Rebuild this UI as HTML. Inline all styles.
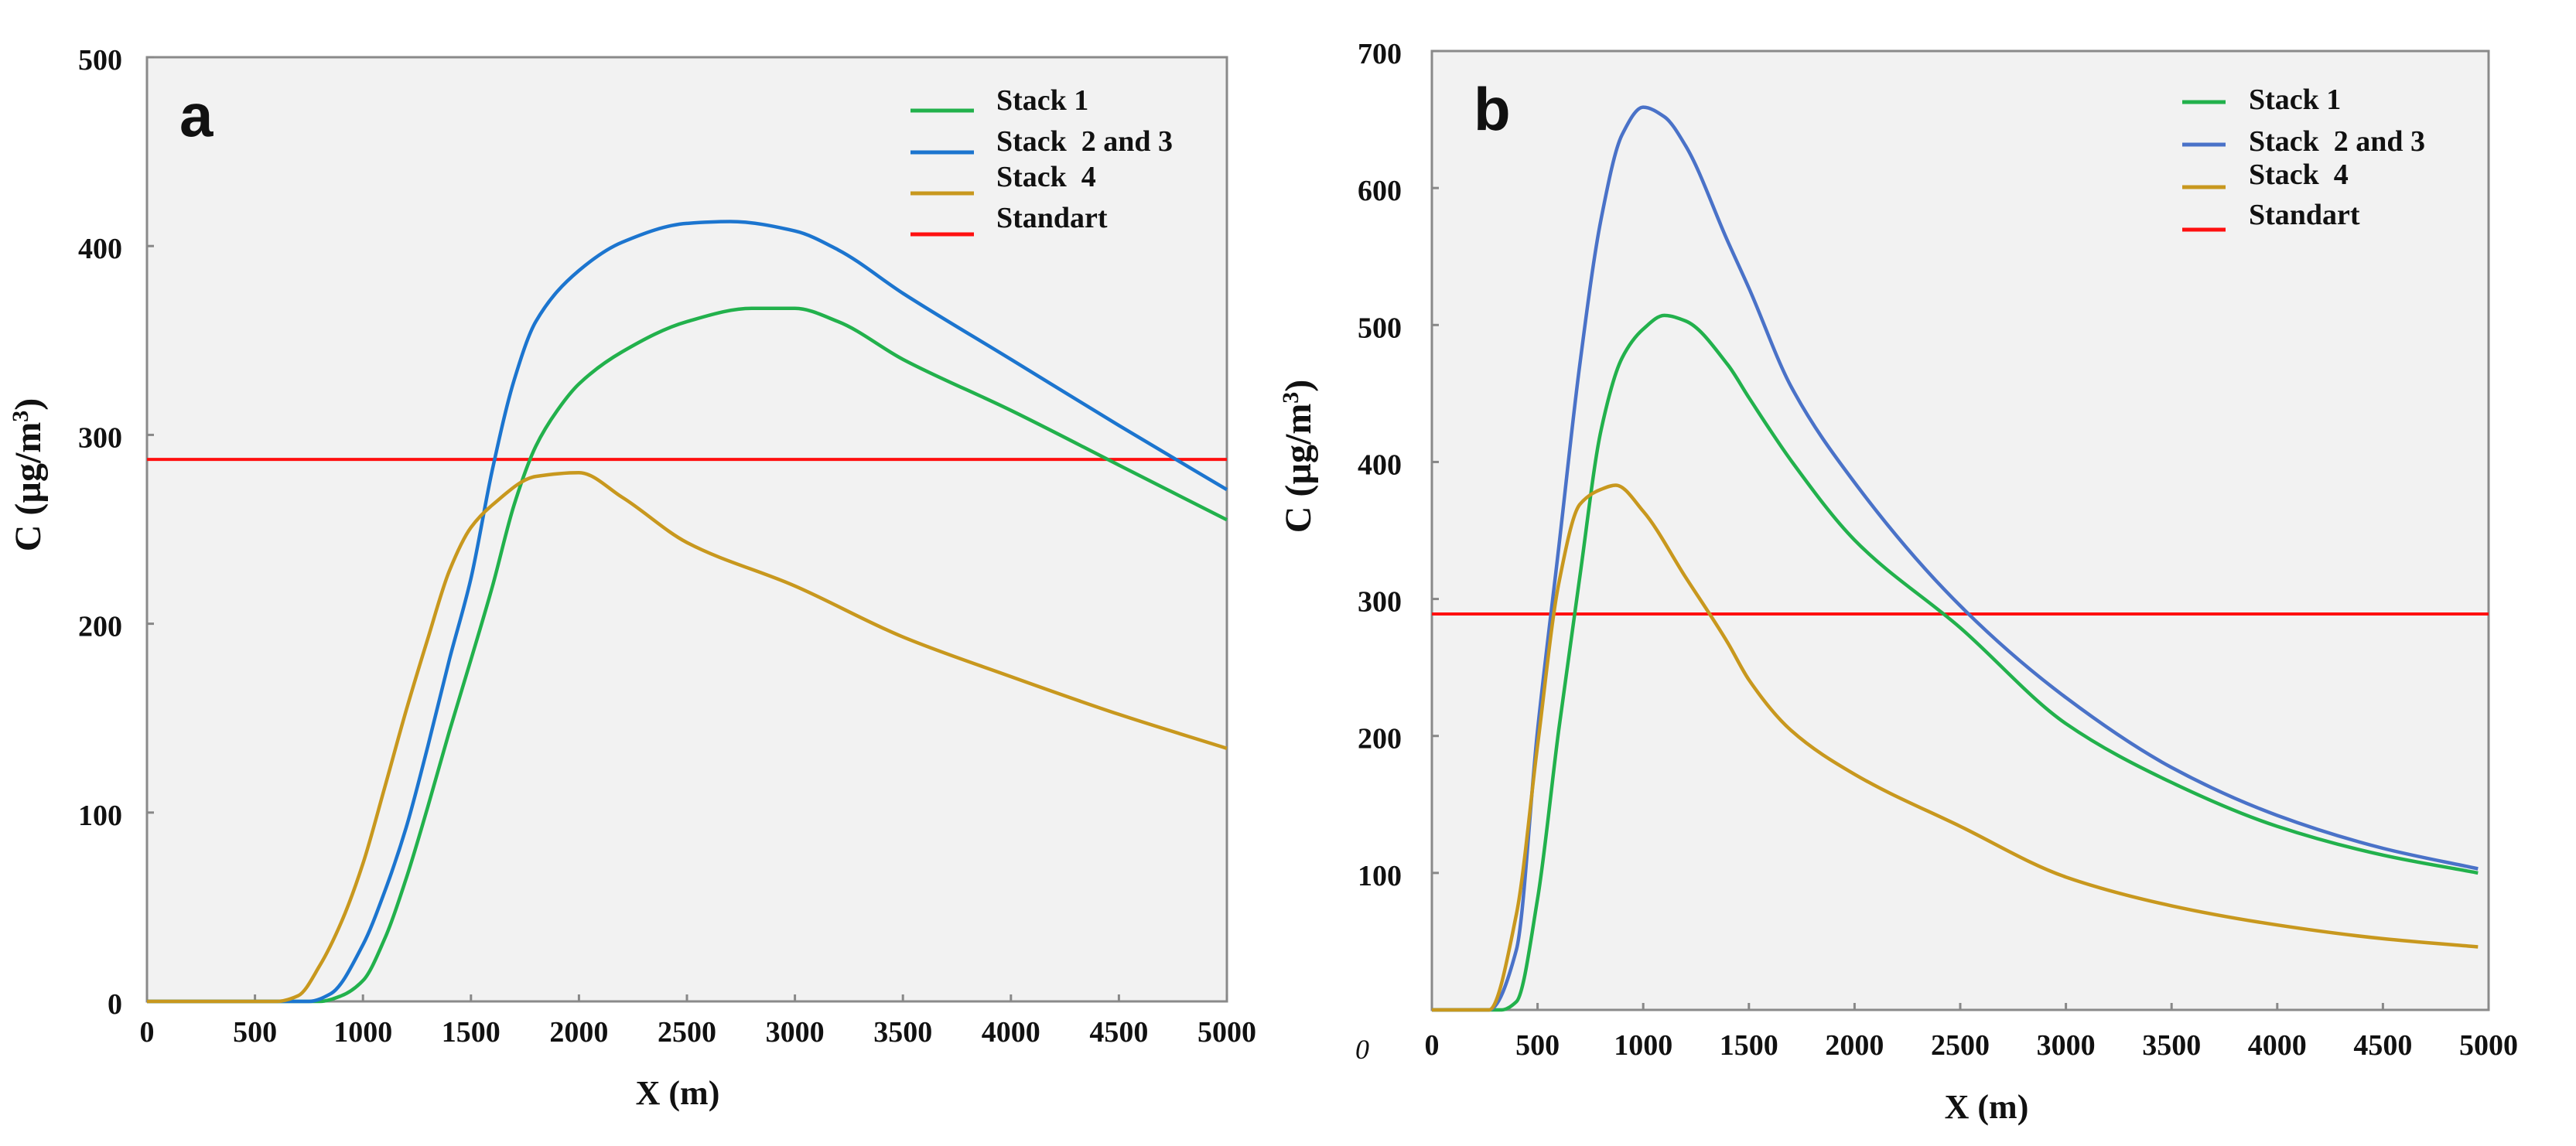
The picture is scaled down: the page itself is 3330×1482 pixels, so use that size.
<!DOCTYPE html>
<html><head><meta charset="utf-8"><style>
html,body{margin:0;padding:0;background:#fff}
svg{display:block}
text{font-family:"Liberation Serif",serif;font-weight:bold;fill:#111}
</style></head><body>
<svg id="chart" width="3330" height="1482" viewBox="0 0 3330 1482" xmlns="http://www.w3.org/2000/svg"></svg>
<script>
// Panel a data
const xTicksA = [0,500,1000,1500,2000,2500,3000,3500,4000,4500,5000];
const yTicksA = [0,100,200,300,400,500];
const standardA = 287;
const aStack1X = [0,800,900,1000,1100,1200,1300,1400,1500,1600,1700,1800,1900,2000,2200,2500,2800,3000,3200,3500,4000,4500,5000];
const aStack1Y = [0,0,3,11,33,65,103,143,181,220,263,294,313,327,344,360,367,367,360,340,313,284,255];
const aStack23X = [0,750,850,1000,1100,1200,1300,1400,1500,1600,1700,1800,2000,2200,2500,2700,3000,3200,3500,4000,4500,5000];
const aStack23Y = [0,0,4,30,58,92,135,181,224,282,329,360,387,402,412,413,408,398,375,340,305,271];
const aStack4X = [0,600,700,800,900,1000,1100,1200,1300,1400,1500,1600,1800,2000,2200,2500,3000,3500,4000,4500,5000];
const aStack4Y = [0,0,3,19,42,73,113,154,192,228,251,263,278,280,267,243,220,193,172,152,134];
// Panel b data
const xTicksB = [0,500,1000,1500,2000,2500,3000,3500,4000,4500,5000];
const yTicksB = [100,200,300,400,500,600,700];
const standardB = 289;
const bStack1X = [0,330,400,500,600,700,800,900,1000,1100,1200,1400,1500,1700,2000,2500,3000,3500,4000,4500,4950];
const bStack1Y = [0,0,6,81,204,316,423,476,497,507,503,471,447,401,343,279,209,166,134,113,100];
const bStack23X = [0,270,400,500,600,700,800,900,1000,1100,1200,1400,1500,1700,2000,2500,3000,3500,4000,4500,4950];
const bStack23Y = [0,0,44,204,337,471,577,639,659,652,631,561,527,455,385,295,228,177,142,118,103];
const bStack4X = [0,270,400,500,600,700,800,870,1000,1200,1400,1500,1700,2000,2500,3000,3500,4000,4500,4950];
const bStack4Y = [0,0,70,193,311,369,380,383,364,316,268,241,204,172,134,97,76,62,52,46];

const NS="http://www.w3.org/2000/svg";
const svg=document.getElementById('chart');
function mk(tag,attrs,parent){const e=document.createElementNS(NS,tag);for(const k in attrs)e.setAttribute(k,attrs[k]);(parent||svg).appendChild(e);return e;}
// monotone cubic (Fritsch-Carlson) in pixel space
function monoPath(pts){
  const n=pts.length, dx=[], m=[], t=new Array(n);
  for(let i=0;i<n-1;i++){dx[i]=pts[i+1][0]-pts[i][0];m[i]=(pts[i+1][1]-pts[i][1])/dx[i];}
  t[0]=m[0]; t[n-1]=m[n-2];
  for(let i=1;i<n-1;i++){
    if(m[i-1]*m[i]<=0) t[i]=0;
    else { const w1=2*dx[i]+dx[i-1], w2=dx[i]+2*dx[i-1]; t[i]=(w1+w2)/(w1/m[i-1]+w2/m[i]); }
  }
  let d='M'+pts[0][0].toFixed(1)+','+pts[0][1].toFixed(1);
  for(let i=0;i<n-1;i++){
    const h=dx[i]/3;
    d+=' C'+(pts[i][0]+h).toFixed(1)+','+(pts[i][1]+t[i]*h).toFixed(1)+' '+(pts[i+1][0]-h).toFixed(1)+','+(pts[i+1][1]-t[i+1]*h).toFixed(1)+' '+pts[i+1][0].toFixed(1)+','+pts[i+1][1].toFixed(1);
  }
  return d;
}
function panel(cfg){
  const g=mk('g',{});
  
  
  const sx=v=>cfg.L+v/5000*(cfg.R-cfg.L);
  const sy=v=>cfg.B-(v-cfg.ymin)/(cfg.ymax-cfg.ymin)*(cfg.B-cfg.T);
  const bg=mk('rect',{x:cfg.L,y:cfg.T,width:cfg.R-cfg.L,height:cfg.B-cfg.T,fill:'#f2f2f2',stroke:'#8a8a8a','stroke-width':3},g);
  
  
  cfg.xt.forEach(v=>{
    const x=sx(v);
    const t=mk('line',{x1:x,x2:x,y1:cfg.B,y2:cfg.B-9,stroke:'#888','stroke-width':3},g);
    
    
    const l=mk('text',{x:x,y:cfg.xlY,'font-size':38,'text-anchor':'middle'},g);
    l.textContent=v;
    
    
  });
  cfg.yt.forEach(v=>{
    const y=sy(v);
    const t=mk('line',{x1:cfg.L,x2:cfg.L+9,y1:y,y2:y,stroke:'#888','stroke-width':3},g);
    
    
    const l=mk('text',{x:cfg.ylX,y:y+16,'font-size':38,'text-anchor':'end'},g);
    l.textContent=v;
    
    
  });
  const sline=mk('line',{x1:cfg.L,x2:cfg.R,y1:sy(cfg.std),y2:sy(cfg.std),stroke:'#ff1010','stroke-width':4},g);
  
  
  cfg.series.forEach(s=>{
    const pts=s.x.map((v,i)=>[sx(v),sy(s.y[i])]);
    const p=mk('path',{d:monoPath(pts),fill:'none',stroke:s.c,'stroke-width':4.5,'stroke-linejoin':'round'},g);
    
    
  });
  const names=['Stack 1','Stack  2 and 3','Stack  4','Standart'];
  const cols=[cfg.series[0].c,cfg.series[1].c,cfg.series[2].c,'#ff1010'];
  cfg.legRows.forEach((ry,i)=>{
    const ln=mk('line',{x1:cfg.legX,x2:cfg.legX+cfg.legW,y1:ry,y2:ry,stroke:cols[i],'stroke-width':5},g);
    
    
    const tx=mk('text',{x:cfg.legTX,y:cfg.legTY[i],'font-size':38},g);
    tx.textContent=names[i];
    tx.style.whiteSpace='pre';
    
    
  });
  const pl=mk('text',{x:cfg.plX,y:cfg.plY,'font-size':78,style:'font-family:"Liberation Sans",sans-serif;font-weight:bold'},g);
  pl.textContent=cfg.id;
  
  
  const xt=mk('text',{x:cfg.xtX,y:cfg.xtY,'font-size':44,'text-anchor':'middle'},g);
  xt.textContent='X (m)';
  
  
  const yt=mk('text',{x:0,y:0,'font-size':48,'text-anchor':'middle',transform:'translate('+cfg.ytX+','+cfg.ytY+') rotate(-90)'},g);
  yt.innerHTML='C (\u00b5g/m<tspan dy="-16" font-size="30">3</tspan><tspan dy="16">)</tspan>';
  
  
}
panel({id:'a',L:190,R:1586,T:74,B:1295,ymin:0,ymax:500,xt:xTicksA,yt:yTicksA,std:standardA,xlY:1347,ylX:158,
  series:[{name:'stack-1-line',x:aStack1X,y:aStack1Y,c:'#22b14c'},{name:'stack-2-3-line',x:aStack23X,y:aStack23Y,c:'#1c75cf'},{name:'stack-4-line',x:aStack4X,y:aStack4Y,c:'#c8981e'}],
  legX:1177,legW:82,legRows:[143,197,250,303],legTX:1288,legTY:[142,195,241,294],plX:232,plY:176,xtX:876,xtY:1428,ytX:52,ytY:614});
panel({id:'b',L:1851,R:3217,T:66,B:1306,ymin:0,ymax:700,xt:xTicksB,yt:yTicksB,std:standardB,xlY:1364,ylX:1812,
  series:[{name:'stack-1-line',x:bStack1X,y:bStack1Y,c:'#22b14c'},{name:'stack-2-3-line',x:bStack23X,y:bStack23Y,c:'#4a72c8'},{name:'stack-4-line',x:bStack4X,y:bStack4Y,c:'#c8981e'}],
  legX:2821,legW:56,legRows:[132,187,242,297],legTX:2907,legTY:[141,195,238,290],plX:1905,plY:168,xtX:2568,xtY:1446,ytX:1694,ytY:590});
const z=mk('text',{x:1761,y:1369,'font-size':36,'text-anchor':'middle',style:'font-style:italic;font-weight:normal'});
z.textContent='0';


</script>
</body></html>
